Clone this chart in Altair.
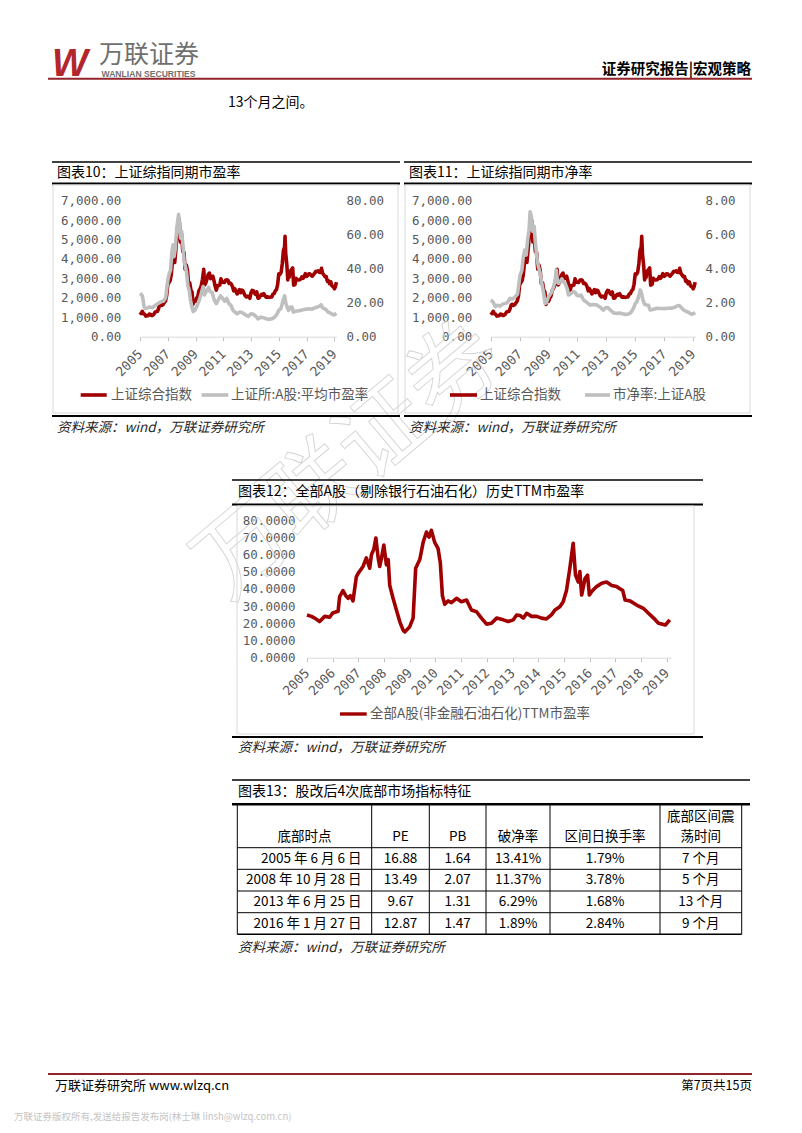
import altair as alt
import pandas as pd

# ---------------- page geometry (layout only) ----------------
W, H = 786, 1117
OX, OY = 8, 8
CJK = "Noto Sans CJK SC"
MONO = "DejaVu Sans Mono"
RED = "#A00000"
GREY = "#BFBFBF"
LBL = "#595959"
HDR_RED = "#93232A"

# ---------------- data ----------------
# Shanghai Composite, month-end closes (read from charts 10/11)
sse_start_2005 = 1266
sse_2005 = [1191, 1306, 1181, 1159, 1060, 1080, 1083, 1162, 1155, 1092, 1099, 1161]
sse_2006 = [1258, 1299, 1298, 1440, 1641, 1672, 1612, 1658, 1752, 1837, 2099, 2675]
sse_2007 = [2786, 2881, 3183, 3841, 4109, 3820, 4471, 5218, 5552, 5955, 4871, 5262]
sse_2008 = [4383, 4348, 3473, 3693, 3433, 2736, 2775, 2397, 2293, 1729, 1871, 1821]
sse_2009 = [1991, 2082, 2373, 2477, 2633, 2959, 3412, 2667, 2779, 2996, 3195, 3277]
sse_2010 = [2989, 3051, 3110, 2871, 2592, 2398, 2638, 2639, 2656, 2979, 2820, 2808]
sse_2011 = [2791, 2905, 2928, 2911, 2743, 2762, 2701, 2568, 2359, 2468, 2333, 2199]
sse_2012 = [2293, 2428, 2263, 2397, 2373, 2225, 2103, 2047, 2086, 2069, 1980, 2269]
sse_2013 = [2385, 2366, 2237, 2178, 2301, 1979, 1994, 2098, 2175, 2141, 2220, 2116]
sse_2014 = [2033, 2056, 2033, 2026, 2039, 2048, 2202, 2217, 2364, 2420, 2683, 3235]
sse_2015 = [3210, 3310, 3748, 4442, 4612, 4277, 3664, 3206, 3053, 3383, 3445, 3539]
sse_2016 = [2738, 2688, 3004, 2938, 2917, 2930, 2979, 3085, 3005, 3100, 3250, 3104]
sse_2017 = [3159, 3242, 3223, 3155, 3117, 3192, 3273, 3361, 3349, 3393, 3317, 3307]
sse_2018 = [3481, 3259, 3169, 3082, 3095, 2847, 2876, 2725, 2821, 2603, 2588, 2494]
sse_2019 = [2585]
sse_extreme_t = [2007.79, 2008.82, 2009.59, 2015.45, 2015.65, 2016.07, 2018.08, 2019.01, 2019.15]
sse_extreme_v = [6092, 1665, 3471, 5166, 2927, 2656, 3523, 2464, 2804]

# 上证所:A股:平均市盈率 (chart 10, right axis)
pe_t = [2005.00, 2005.08, 2005.17, 2005.30, 2005.40, 2005.50, 2005.70, 2005.90, 2006.10, 2006.30,
        2006.50, 2006.70, 2006.85, 2007.00, 2007.10, 2007.20, 2007.30, 2007.38, 2007.45, 2007.55,
        2007.65, 2007.78, 2007.85, 2007.92, 2008.00, 2008.08, 2008.17, 2008.25, 2008.35, 2008.45,
        2008.55, 2008.65, 2008.75, 2008.83, 2008.95, 2009.10, 2009.25, 2009.40, 2009.55, 2009.65,
        2009.80, 2009.95, 2010.05, 2010.20, 2010.35, 2010.50, 2010.60, 2010.80, 2010.95, 2011.10,
        2011.25, 2011.40, 2011.55, 2011.70, 2011.85, 2012.00, 2012.20, 2012.40, 2012.60, 2012.80,
        2013.00, 2013.15, 2013.35, 2013.50, 2013.70, 2013.90, 2014.10, 2014.30, 2014.50, 2014.70,
        2014.85, 2015.00, 2015.15, 2015.30, 2015.42, 2015.50, 2015.60, 2015.70, 2015.85, 2015.95,
        2016.05, 2016.20, 2016.40, 2016.60, 2016.80, 2017.00, 2017.20, 2017.40, 2017.60, 2017.80,
        2017.95, 2018.05, 2018.15, 2018.30, 2018.45, 2018.55, 2018.70, 2018.85, 2019.00, 2019.15]
pe_v = [25.5, 25.0, 24.0, 17.5, 16.5, 16.8, 17.5, 17.0, 18.5, 19.5,
        20.5, 21.0, 23.0, 33.0, 37.0, 39.0, 50.0, 54.0, 47.0, 52.0,
        64.0, 72.0, 66.0, 58.0, 62.0, 55.0, 45.0, 42.0, 38.0, 30.0,
        27.0, 21.0, 17.0, 14.8, 15.5, 18.0, 21.0, 25.0, 29.5, 24.5,
        27.0, 29.0, 26.5, 26.0, 21.5, 19.5, 21.0, 24.0, 22.5, 21.0,
        22.5, 19.5, 18.5, 15.5, 14.5, 13.5, 14.5, 14.0, 12.8, 12.0,
        13.5, 13.2, 12.0, 10.5, 11.5, 11.2, 10.5, 10.2, 10.5, 11.5,
        13.0, 15.5, 16.5, 21.0, 24.0, 20.0, 17.5, 15.5, 17.5, 17.5,
        14.5, 15.0, 15.2, 15.5, 16.0, 16.2, 16.5, 16.2, 17.0, 17.5,
        18.0, 18.8, 17.0, 16.5, 15.5, 14.5, 14.0, 13.2, 12.8, 13.8]

# 市净率:上证A股 (chart 11, right axis)
pb_t = [2005.00, 2005.15, 2005.30, 2005.45, 2005.64, 2005.80, 2005.99, 2006.15, 2006.33, 2006.50,
        2006.68, 2006.85, 2007.02, 2007.15, 2007.25, 2007.35, 2007.45, 2007.55, 2007.65, 2007.72,
        2007.80, 2007.90, 2008.00, 2008.07, 2008.18, 2008.30, 2008.40, 2008.53, 2008.65, 2008.76,
        2008.85, 2009.00, 2009.20, 2009.34, 2009.45, 2009.53, 2009.62, 2009.70, 2009.85, 2009.92,
        2010.05, 2010.15, 2010.30, 2010.38, 2010.50, 2010.72, 2010.85, 2010.95, 2011.10, 2011.25,
        2011.42, 2011.60, 2011.75, 2011.88, 2012.10, 2012.34, 2012.55, 2012.80, 2012.95, 2013.10,
        2013.27, 2013.50, 2013.73, 2013.90, 2014.19, 2014.35, 2014.53, 2014.70, 2014.88, 2015.00,
        2015.12, 2015.25, 2015.35, 2015.45, 2015.53, 2015.65, 2015.80, 2015.92, 2016.03, 2016.20,
        2016.50, 2016.80, 2017.00, 2017.19, 2017.50, 2017.70, 2017.89, 2018.05, 2018.20, 2018.35,
        2018.50, 2018.65, 2018.81, 2018.95, 2019.08, 2019.15]
pb_v = [2.16, 2.05, 1.77, 1.85, 1.80, 1.90, 1.96, 2.00, 2.26, 2.20,
        2.35, 2.50, 3.60, 3.90, 4.70, 5.10, 4.80, 5.70, 6.30, 7.35,
        7.10, 6.20, 6.50, 5.70, 4.70, 4.10, 3.80, 3.14, 2.60, 1.96,
        2.00, 2.35, 2.60, 2.94, 3.30, 3.92, 3.20, 3.14, 3.30, 3.40,
        3.20, 3.14, 2.80, 2.45, 2.50, 2.65, 2.60, 2.45, 2.40, 2.45,
        2.16, 2.05, 1.95, 1.86, 1.90, 1.86, 1.75, 1.57, 1.70, 1.72,
        1.57, 1.40, 1.37, 1.40, 1.34, 1.30, 1.34, 1.42, 1.67, 1.95,
        2.06, 2.40, 2.75, 2.50, 2.16, 1.90, 1.86, 1.85, 1.57, 1.60,
        1.67, 1.66, 1.65, 1.67, 1.68, 1.72, 1.80, 1.83, 1.70, 1.57,
        1.50, 1.45, 1.36, 1.32, 1.38, 1.42]

# 全部A股(非金融石油石化)TTM市盈率 (chart 12)
ttm_t = [2005.00, 2005.17, 2005.30, 2005.49, 2005.69, 2005.88, 2006.00, 2006.21, 2006.27, 2006.40,
         2006.51, 2006.60, 2006.69, 2006.79, 2006.92, 2006.99, 2007.18, 2007.31, 2007.44, 2007.51,
         2007.60, 2007.68, 2007.77, 2007.83, 2007.90, 2007.99, 2008.09, 2008.16, 2008.22, 2008.35,
         2008.48, 2008.61, 2008.74, 2008.81, 2009.00, 2009.13, 2009.23, 2009.39, 2009.52, 2009.65,
         2009.75, 2009.84, 2009.97, 2010.10, 2010.19, 2010.27, 2010.36, 2010.49, 2010.62, 2010.82,
         2011.01, 2011.21, 2011.40, 2011.60, 2011.79, 2011.99, 2012.18, 2012.38, 2012.64, 2012.83,
         2013.03, 2013.16, 2013.29, 2013.42, 2013.55, 2013.74, 2013.94, 2014.13, 2014.32, 2014.52,
         2014.65, 2014.84, 2014.97, 2015.10, 2015.23, 2015.36, 2015.45, 2015.56, 2015.62, 2015.69,
         2015.82, 2015.92, 2015.99, 2016.08, 2016.27, 2016.47, 2016.66, 2016.86, 2017.05, 2017.29,
         2017.38, 2017.57, 2017.83, 2018.09, 2018.29, 2018.49, 2018.68, 2018.95, 2019.12]
ttm_v = [24.8, 24.0, 23.0, 21.0, 24.0, 23.5, 26.0, 27.0, 35.5, 39.0,
         36.0, 34.5, 36.0, 33.0, 47.0, 49.0, 53.0, 58.0, 52.0, 60.0,
         63.0, 69.5, 58.0, 53.0, 58.0, 65.5, 54.0, 57.0, 42.0, 34.5,
         27.7, 21.0, 16.0, 15.0, 18.0, 23.0, 52.0, 57.0, 67.0, 73.0,
         70.0, 74.0, 67.0, 63.5, 55.0, 36.0, 31.0, 33.0, 32.0, 34.5,
         32.5, 33.5, 27.7, 26.7, 23.0, 19.5, 20.0, 23.0, 22.0, 21.0,
         22.0, 24.8, 24.5, 23.0, 25.8, 24.0, 24.0, 23.0, 22.5, 25.0,
         27.7, 29.6, 32.5, 39.0, 52.0, 66.5, 48.0, 44.0, 50.0, 36.4,
         46.0, 48.0, 36.4, 38.4, 41.3, 43.2, 44.0, 42.0, 41.3, 39.0,
         33.5, 33.0, 30.6, 28.7, 25.8, 23.0, 20.0, 19.0, 22.0]

# table 13
tbl_header = ["底部时点", "PE", "PB", "破净率", "区间日换手率"]
tbl_header_last = ["底部区间震", "荡时间"]
tbl_dates = ["2005 年 6 月 6 日", "2008 年 10 月 28 日", "2013 年 6 月 25 日", "2016 年 1 月 27 日"]
tbl_pe = [16.88, 13.49, 9.67, 12.87]
tbl_pb = [1.64, 2.07, 1.31, 1.47]
tbl_below_net = [13.41, 11.37, 6.29, 1.89]
tbl_turnover = [1.79, 3.78, 1.68, 2.84]
tbl_months = [7, 5, 13, 9]

legend10 = ["上证综合指数", "上证所:A股:平均市盈率"]
legend11 = ["上证综合指数", "市净率:上证A股"]
legend12 = ["全部A股(非金融石油石化)TTM市盈率"]

# ---------------- helpers ----------------
def px_x(p):
    return p - OX


def px_y(p):
    return p - OY


def one():
    return pd.DataFrame({"k": [0]})


def text(s, x, y, size=13, color="#000000", align="left", baseline="middle", font=CJK,
         weight="normal", style="normal", angle=None, opacity=None, stroke=None, filled=True):
    kw = dict(text=s, align=align, baseline=baseline, fontSize=size, font=font,
              fontWeight=weight, fontStyle=style)
    if filled:
        kw["color"] = color
    else:
        kw["fillOpacity"] = 0
    if stroke is not None:
        kw["stroke"] = stroke
        kw["strokeWidth"] = 0.9
    if angle is not None:
        kw["angle"] = angle
    if opacity is not None:
        kw["opacity"] = opacity
    return alt.Chart(one()).mark_text(**kw).encode(x=alt.value(px_x(x)), y=alt.value(px_y(y)))


def hline(x1, x2, y, color="#000000", w=1.0):
    return alt.Chart(one()).mark_rule(color=color, strokeWidth=w).encode(
        x=alt.value(px_x(x1)), x2=alt.value(px_x(x2)), y=alt.value(px_y(y)))


def vline(x, y1, y2, color="#000000", w=1.0):
    return alt.Chart(one()).mark_rule(color=color, strokeWidth=w).encode(
        x=alt.value(px_x(x)), y=alt.value(px_y(y1)), y2=alt.value(px_y(y2)))


def frame(x1, y1, x2, y2, color="#D9D9D9"):
    return alt.Chart(one()).mark_rect(fillOpacity=0, stroke=color, strokeWidth=1).encode(
        x=alt.value(px_x(x1)), x2=alt.value(px_x(x2)),
        y=alt.value(px_y(y1)), y2=alt.value(px_y(y2)))


def year_scale(x2005, x2019, end):
    rate = (x2019 - x2005) / 14.0
    return alt.Scale(domain=[2005, end], range=[px_x(x2005), px_x(x2005 + (end - 2005) * rate)],
                     nice=False, zero=False)


def val_scale(dmax, y0, ytop):
    return alt.Scale(domain=[0, dmax], range=[px_y(y0), px_y(ytop)], nice=False, zero=False)


def x_axis(y0, values, size, pad):
    return alt.Axis(orient="bottom", offset=px_y(y0) - H, values=values, format="d",
                    labelAngle=-45, labelAlign="right", labelBaseline="middle",
                    labelPadding=pad, tickSize=4, tickColor="#BFBFBF", domainColor="#D9D9D9",
                    domainWidth=1, grid=False, title=None, labelFont=MONO, labelFontSize=size,
                    labelColor=LBL, labelOverlap=False, labelFlush=False)


def y_axis_left(label_right, values, fmt, size):
    pad = 4
    return alt.Axis(orient="left", offset=-(px_x(label_right) + pad), values=values, format=fmt,
                    domain=False, ticks=False, tickSize=0, labelPadding=pad, grid=False, title=None,
                    labelFont=MONO, labelFontSize=size, labelColor=LBL, labelOverlap=False,
                    labelFlush=False, labelAlign="right", labelBaseline="middle")


def y_axis_right(label_left, values, fmt, size):
    pad = 4
    return alt.Axis(orient="right", offset=(px_x(label_left) - pad) - W, values=values, format=fmt,
                    domain=False, ticks=False, tickSize=0, labelPadding=pad, grid=False, title=None,
                    labelFont=MONO, labelFontSize=size, labelColor=LBL, labelOverlap=False,
                    labelFlush=False, labelAlign="left", labelBaseline="middle")


# ---------------- series tables ----------------
sse_t, sse_v = [2005.0], [sse_start_2005]
for yr, vals in [(2005, sse_2005), (2006, sse_2006), (2007, sse_2007), (2008, sse_2008),
                 (2009, sse_2009), (2010, sse_2010), (2011, sse_2011), (2012, sse_2012),
                 (2013, sse_2013), (2014, sse_2014), (2015, sse_2015), (2016, sse_2016),
                 (2017, sse_2017), (2018, sse_2018), (2019, sse_2019)]:
    for m, v in enumerate(vals, start=1):
        sse_t.append(yr + m / 12.0)
        sse_v.append(v)
sse_t += sse_extreme_t
sse_v += sse_extreme_v
sse_df = pd.DataFrame({"t": sse_t, "v": sse_v}).sort_values("t")
pe_df = pd.DataFrame({"t": pe_t, "v": pe_v})
pb_df = pd.DataFrame({"t": pb_t, "v": pb_v})
ttm_df = pd.DataFrame({"t": ttm_t, "v": ttm_v})

END = 2019.16
YEARS2 = list(range(2005, 2020, 2))
YEARS1 = list(range(2005, 2020))


def dual_chart(second_df, x2005, x2019, y0, ytop, left_lab_right, right_lab_left, sec_max, sec_fmt):
    xs = year_scale(x2005, x2019, END)
    xa = x_axis(y0, YEARS2, 13, 11)
    red = alt.Chart(sse_df).mark_line(color=RED, strokeWidth=3.6, strokeJoin="round").encode(
        x=alt.X("t:Q", scale=xs, axis=xa),
        y=alt.Y("v:Q", scale=val_scale(7000, y0, ytop),
                axis=y_axis_left(left_lab_right, list(range(0, 7001, 1000)), ",.2f", 12.5)))
    grey = alt.Chart(second_df).mark_line(color=GREY, strokeWidth=3.6, strokeJoin="round").encode(
        x=alt.X("t:Q", scale=xs, axis=xa),
        y=alt.Y("v:Q", scale=val_scale(sec_max, y0, ytop),
                axis=y_axis_right(right_lab_left, [sec_max * i / 4 for i in range(5)], sec_fmt, 12.5)))
    return alt.layer(red, grey).resolve_scale(y="independent")


chart10 = dual_chart(pe_df, 140.0, 334.3, 336.7, 200.7, 120.7, 346.0, 80, ".2f")
chart11 = dual_chart(pb_df, 490.8, 693.0, 336.7, 200.7, 471.7, 705.0, 8, ".2f")

chart12 = alt.Chart(ttm_df).mark_line(color=RED, strokeWidth=3.6, strokeJoin="round").encode(
    x=alt.X("t:Q", scale=year_scale(307.0, 666.7, END), axis=x_axis(657.7, YEARS1, 13, 9)),
    y=alt.Y("v:Q", scale=val_scale(80, 657.7, 520.0),
            axis=y_axis_left(295.0, list(range(0, 81, 10)), ".4f", 12.5)))

# ---------------- table 13 ----------------
col_edges = [237.3, 371.7, 429.3, 486.0, 550.0, 660.0, 741.7]
row_edges = [804.3, 847.7, 869.3, 891.0, 912.7, 934.3]
col_mid = [(col_edges[i] + col_edges[i + 1]) / 2 for i in range(6)]
row_mid = [(row_edges[i] + row_edges[i + 1]) / 2 for i in range(1, 5)]
HEAD_Y = 836.5
HEAD_Y_TOP = 817.0
DATE_RIGHT = 361.5

center_cells = []
for i, s in enumerate(tbl_header):
    center_cells.append({"cx": px_x(col_mid[i]), "cy": px_y(HEAD_Y), "s": s})
center_cells.append({"cx": px_x(col_mid[5]), "cy": px_y(HEAD_Y_TOP), "s": tbl_header_last[0]})
center_cells.append({"cx": px_x(col_mid[5]), "cy": px_y(HEAD_Y), "s": tbl_header_last[1]})
for r in range(4):
    cy = px_y(row_mid[r])
    center_cells.append({"cx": px_x(col_mid[1]), "cy": cy, "s": f"{tbl_pe[r]:.2f}"})
    center_cells.append({"cx": px_x(col_mid[2]), "cy": cy, "s": f"{tbl_pb[r]:.2f}"})
    center_cells.append({"cx": px_x(col_mid[3]), "cy": cy, "s": f"{tbl_below_net[r]:.2f}%"})
    center_cells.append({"cx": px_x(col_mid[4]), "cy": cy, "s": f"{tbl_turnover[r]:.2f}%"})
    center_cells.append({"cx": px_x(col_mid[5]), "cy": cy, "s": f"{tbl_months[r]} 个月"})
right_cells = [{"cx": px_x(DATE_RIGHT), "cy": px_y(row_mid[r]), "s": tbl_dates[r]} for r in range(4)]

ident_x = alt.Scale(domain=[0, W], range=[0, W], nice=False, zero=False)
ident_y = alt.Scale(domain=[0, H], range=[0, H], nice=False, zero=False)
tbl_center = alt.Chart(pd.DataFrame(center_cells)).mark_text(
    font=CJK, fontSize=13.5, color="#000000", align="center", baseline="middle").encode(
    x=alt.X("cx:Q", scale=ident_x, axis=None), y=alt.Y("cy:Q", scale=ident_y, axis=None), text="s:N")
tbl_right = alt.Chart(pd.DataFrame(right_cells)).mark_text(
    font=CJK, fontSize=13.5, color="#000000", align="right", baseline="middle").encode(
    x=alt.X("cx:Q", scale=ident_x, axis=None), y=alt.Y("cy:Q", scale=ident_y, axis=None), text="s:N")
table13 = alt.layer(tbl_center, tbl_right)

# ---------------- page decoration ----------------
layers = []
# diagonal watermark
layers.append(text("万联证券", 350, 462, size=92, angle=320, align="center", filled=False,
                   stroke="#D4D4D4"))

# header
layers.append(text("W", 52, 75.5, size=38, color="#B3262B", font="Liberation Sans", weight="bold",
                   style="italic", baseline="alphabetic"))
layers.append(text("万联证券", 99, 54.5, size=25, color="#707070"))
layers.append(text("WANLIAN SECURITIES", 101.5, 73.6, size=8.6, color="#707070",
                   font="Liberation Sans", weight="bold"))
layers.append(text("证券研究报告|宏观策略", 751, 70, size=14.5, color="#000000", align="right",
                   weight="bold"))
layers.append(hline(48, 752, 78.8, HDR_RED, 2.0))
layers.append(text("13个月之间。", 228, 103, size=14, color="#000000"))

# chart 10 / 11 blocks
for (bx1, bx2, title, tx) in [(52, 400, "图表10：上证综指同期市盈率", 57),
                              (404, 752, "图表11：上证综指同期市净率", 409)]:
    layers.append(hline(bx1, bx2, 162, "#000000", 1.6))
    layers.append(text(title, tx, 172.5, size=14))
    layers.append(hline(bx1, bx2, 183.5, "#000000", 2.0))
    layers.append(frame(bx1 + 1, 185, bx2 - 2, 413))
    layers.append(hline(bx1, bx2, 416, "#000000", 2.0))
    layers.append(text("资料来源：wind，万联证券研究所", tx, 428, size=13.5, color="#262626",
                       style="italic"))

layers.append(chart10)
layers.append(chart11)

# legends 10/11
layers.append(hline(80.7, 106.7, 395, RED, 3.6))
layers.append(text(legend10[0], 111, 395, size=13.5, color=LBL))
layers.append(hline(201.7, 228.3, 395, GREY, 3.6))
layers.append(text(legend10[1], 231, 395, size=13.5, color=LBL))
layers.append(hline(450, 477, 395, RED, 3.6))
layers.append(text(legend11[0], 480, 395, size=13.5, color=LBL))
layers.append(hline(585, 610, 395, GREY, 3.6))
layers.append(text(legend11[1], 613, 395, size=13.5, color=LBL))

# chart 12 block
layers.append(hline(232, 703, 480, "#000000", 1.6))
layers.append(text("图表12：全部A股（剔除银行石油石化）历史TTM市盈率", 238, 492, size=14))
layers.append(hline(232, 703, 504.5, "#000000", 2.0))
layers.append(frame(237, 506, 694, 734))
layers.append(hline(232, 703, 737, "#000000", 2.0))
layers.append(text("资料来源：wind，万联证券研究所", 238, 748, size=13.5, color="#262626", style="italic"))
layers.append(chart12)
layers.append(hline(340, 366.7, 714, RED, 3.4))
layers.append(text(legend12[0], 370, 714, size=13.5, color=LBL))

# table 13 block
layers.append(hline(232, 750, 780, "#000000", 1.6))
layers.append(text("图表13：股改后4次底部市场指标特征", 238, 792, size=14))
layers.append(hline(232, 750, 804.3, "#000000", 2.4))
for yy in row_edges[1:-1]:
    layers.append(hline(col_edges[0], col_edges[-1], yy, "#000000", 1.0))
layers.append(hline(col_edges[0], col_edges[-1], row_edges[-1], "#000000", 1.6))
for xx in col_edges:
    layers.append(vline(xx, row_edges[0], row_edges[-1], "#000000", 1.0))
layers.append(table13)
layers.append(text("资料来源：wind，万联证券研究所", 238, 948, size=13.5, color="#262626", style="italic"))

# footer
layers.append(hline(48, 752, 1074, HDR_RED, 2.2))
layers.append(text("万联证券研究所 www.wlzq.cn", 55, 1086, size=13, color="#000000"))
layers.append(text("第7页共15页", 752, 1086, size=12.5, color="#000000", align="right"))
layers.append(text("万联证券版权所有,发送给报告发布岗(林士琳 linsh@wlzq.com.cn)", 14, 1117, size=9.5,
                   color="#C4C4C4"))

chart = alt.layer(*layers).resolve_scale(x="independent", y="independent").properties(
    width=W, height=H, autosize=alt.AutoSizeParams(type="none"), padding=0, background="white"
).configure_view(stroke=None)

chart.save("out.html", embed_options={"renderer": "svg", "actions": False})
